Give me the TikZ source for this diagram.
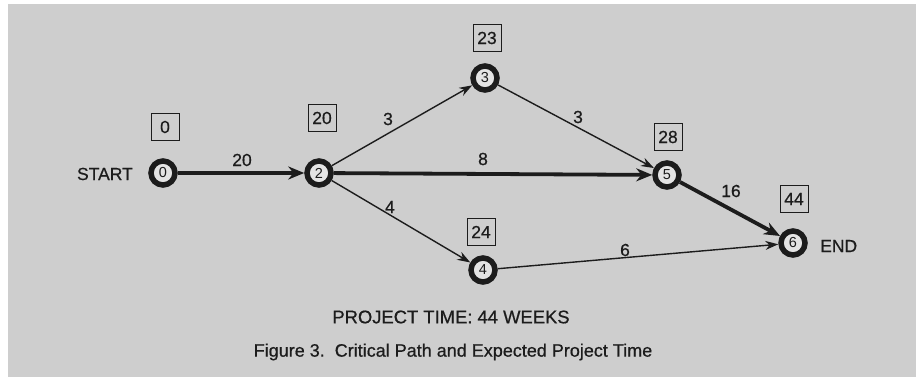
\documentclass[tikz,border=0pt]{standalone}
\usepackage{fontspec}
\setmainfont{Liberation Sans}[FakeBold=0.6]
\newfontfamily\evfont{Liberation Sans}
\usetikzlibrary{arrows.meta}
\definecolor{bg}{RGB}{206,206,206}
\definecolor{ink}{RGB}{28,28,28}
\definecolor{inner}{RGB}{228,228,228}
\begin{document}
\begin{tikzpicture}[x=1pt,y=-1pt,
  ev/.style={circle, draw=ink, line width=5.5pt, fill=inner, minimum size=24pt, inner sep=0pt},
  evtxt/.style={text=ink, inner sep=0pt, font=\evfont\fontsize{14.5}{14.5}\selectfont},
  tbox/.style={draw=ink, line width=1pt, minimum width=28pt, minimum height=27pt, inner sep=0pt},
  lbl/.style={text=ink, font=\fontsize{17.5}{17.5}\selectfont, inner sep=0pt},
  crit/.style={draw=ink, -{Stealth[length=16pt,width=13pt]}, line width=3.8pt},
  norm/.style={draw=ink, -{Stealth[length=13pt,width=9pt]}, line width=1.4pt}]
\fill[white] (0,0) rectangle (916,377);
\fill[bg] (8,4) rectangle (916,377);
\useasboundingbox (0,0) rectangle (916,377);
% events
\node[ev] (n0) at (163,173) {};
\node[ev] (n2) at (319,173) {};
\node[ev] (n3) at (485,78) {};
\node[ev] (n4) at (483,270) {};
\node[ev] (n5) at (667,175) {};
\node[ev] (n6) at (793,243) {};
\node[evtxt] (d0) at (n0) {0};
\node[evtxt] (d2) at (n2) {2};
\node[evtxt] (d3) at (n3) {3};
\node[evtxt] (d4) at (n4) {4};
\node[evtxt] (d5) at (n5) {5};
\node[evtxt] (d6) at (n6) {6};
% time boxes
\node[tbox] (b0) at (165,127) {};
\node[tbox] (b2) at (322,118) {};
\node[tbox] (b3) at (487,38) {};
\node[tbox] (b4) at (481,232) {};
\node[tbox] (b5) at (668,137) {};
\node[tbox] (b6) at (794,199) {};
\node[lbl] (v0) at (b0) {0};
\node[lbl] (v2) at (b2) {20};
\node[lbl] (v3) at (b3) {23};
\node[lbl] (v4) at (b4) {24};
\node[lbl] (v5) at (b5) {28};
\node[lbl] (v6) at (b6) {44};
% side labels
\node[lbl, anchor=east] (st) at (133,174) {START};
\node[lbl, anchor=west] (en) at (820,246) {END};
% activities
\draw[crit] (n0) -- (n2);
\draw[crit] (n2) -- (n5);
\draw[crit] (n5) -- (n6);
\draw[norm] (n2) -- (n3);
\draw[norm] (n2) -- (n4);
\draw[norm] (n3) -- (n5);
\draw[norm] (n4) -- (n6);
% activity times
\node[lbl] (t02) at (242,160) {20};
\node[lbl] (t23) at (388,119) {3};
\node[lbl] (t35) at (578,117) {3};
\node[lbl] (t25) at (483,159) {8};
\node[lbl] (t24) at (390,207) {4};
\node[lbl] (t56) at (731,191) {16};
\node[lbl] (t46) at (625,250) {6};
% captions
\node[lbl, font=\fontsize{18.4}{18.4}\selectfont] (pt) at (451,317) {PROJECT TIME: 44 WEEKS};
\node[lbl, font=\fontsize{18}{18}\selectfont] (cap) at (453,352) {Figure 3.\ \ Critical Path and Expected Project Time};
\end{tikzpicture}
\end{document}
